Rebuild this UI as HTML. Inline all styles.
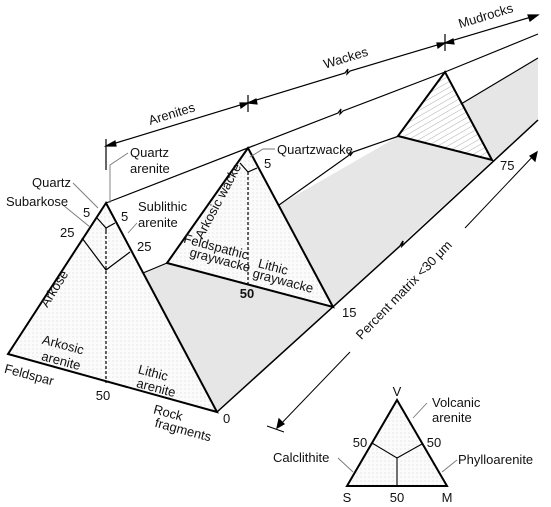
<!DOCTYPE html>
<html><head><meta charset="utf-8"><style>
html,body{margin:0;padding:0;background:#fff;}
svg{display:block;}
text{font-family:"Liberation Sans",sans-serif;font-size:13px;fill:#111;}
</style></head><body>
<svg width="551" height="507" viewBox="0 0 551 507">
<defs>
<pattern id="dots" width="4" height="4" patternUnits="userSpaceOnUse"><rect width="4" height="4" fill="#fbfbfb"/><circle cx="1" cy="1" r="0.5" fill="#c8c8c8"/></pattern>
<pattern id="hatch" width="5" height="5" patternUnits="userSpaceOnUse" patternTransform="rotate(-30)"><rect width="5" height="5" fill="#fff"/><line x1="0" y1="0" x2="5" y2="0" stroke="#999" stroke-width="0.8"/></pattern>
</defs>
<g fill="#e6e6e6" stroke="none">
<polygon points="143,273 167,263 333,307 217,412"/>
<polygon points="279,205 399,136 492,161 333,307"/>
<polygon points="461,104 538,58 538,120 492,161"/>
</g>
<polygon points="106,203 8,354 217,412" fill="url(#dots)" stroke="#000" stroke-width="2"/>
<polygon points="248,148 167,263 333,307" fill="url(#dots)" stroke="#000" stroke-width="2"/>
<polygon points="445,72 398,136 492,160" fill="url(#hatch)" stroke="#000" stroke-width="2"/>
<g stroke="#000" stroke-width="1.2" fill="none">
<line x1="106" y1="231" x2="106" y2="383" stroke-dasharray="3,2"/>
<polyline points="82,238 106,270 130,252"/>
<polyline points="97,218 106,228 115,223"/>
<line x1="106" y1="228" x2="106" y2="231"/>
<line x1="248" y1="172" x2="248" y2="284" stroke-dasharray="3,2"/>
<polyline points="240,163 248,172 257,168"/>
</g>
<g stroke="#000" stroke-width="1.2" fill="none">
<polyline points="106,203 338,113 341,109 340,114 343,111 445,72 538,34"/>
<polyline points="279,205 348,156 351,151 350,156 353,152 399,136"/>
<line x1="461" y1="104" x2="538" y2="58"/>
<line x1="143" y1="273" x2="167" y2="263"/>
<polyline points="217,412 400,246 403,241 402,246 405,243 538,120" stroke-width="1.5"/>
<polyline points="106,146 345,73 348,69 347,74 350,71 538,15"/>
<line x1="106" y1="139" x2="106" y2="170"/>
<line x1="248" y1="95" x2="248" y2="112"/>
<line x1="445" y1="34" x2="445" y2="51"/>
<polygon points="538,15 528,15 530,21" fill="#000"/>
<polygon points="106,146 115,141 116,146" fill="#000"/>
<polygon points="248,103 240,103 241,108" fill="#000"/>
<polygon points="248,103 256,99 257,104" fill="#000"/>
<polygon points="445,43 437,43 438,48" fill="#000"/>
<polygon points="445,43 453,39 454,44" fill="#000"/>
<line x1="350" y1="352" x2="277" y2="428" stroke-width="1"/>
<line x1="267" y1="426" x2="284" y2="432" stroke-width="1"/>
<polygon points="277,428 279,419 284,424" fill="#000"/>
<line x1="465" y1="228" x2="537" y2="152" stroke-width="1"/>
<polygon points="537,152 535,161 530,156" fill="#000"/>
</g>
<g stroke="#777" stroke-width="0.9" fill="none">
<polyline points="128,153 110,165 110,203"/>
<line x1="73" y1="183" x2="98" y2="208"/>
<line x1="63" y1="205" x2="90" y2="227"/>
<line x1="137" y1="223" x2="128" y2="233"/>
<polyline points="275,149 263,149 250,157"/>
<line x1="427" y1="403" x2="413" y2="418"/>
<line x1="338" y1="458" x2="353" y2="472"/>
<line x1="457" y1="460" x2="442" y2="472"/>
</g>
<text x="173" y="118" text-anchor="middle" transform="rotate(-17 173 118)">Arenites</text>
<text x="347" y="62" text-anchor="middle" transform="rotate(-17 347 62)">Wackes</text>
<text x="487" y="20" text-anchor="middle" transform="rotate(-17 487 20)">Mudrocks</text>
<text x="130" y="157">Quartz</text>
<text x="130" y="173">arenite</text>
<text x="32" y="187">Quartz</text>
<text x="6" y="206">Subarkose</text>
<text x="138" y="211">Sublithic</text>
<text x="138" y="227">arenite</text>
<text x="83" y="217">5</text>
<text x="121" y="221">5</text>
<text x="60" y="237">25</text>
<text x="137" y="251">25</text>
<text x="58" y="291" text-anchor="middle" transform="rotate(-58 58 291)">Arkose</text>
<text x="62" y="349" text-anchor="middle" transform="rotate(15 62 349)">Arkosic</text>
<text x="60" y="365" text-anchor="middle" transform="rotate(15 60 365)">arenite</text>
<text x="152" y="377" text-anchor="middle" transform="rotate(15 152 377)">Lithic</text>
<text x="155" y="392" text-anchor="middle" transform="rotate(15 155 392)">arenite</text>
<text x="28" y="379" text-anchor="middle" transform="rotate(15 28 379)">Feldspar</text>
<text x="103" y="400" text-anchor="middle">50</text>
<text x="167" y="417" text-anchor="middle" transform="rotate(15 167 417)">Rock</text>
<text x="182" y="434" text-anchor="middle" transform="rotate(15 182 434)">fragments</text>
<text x="223" y="423">0</text>
<text x="277" y="154">Quartzwacke</text>
<text x="264" y="168">5</text>
<text x="222" y="203" text-anchor="middle" transform="rotate(-62 222 203)">Arkosic wacke</text>
<text x="215" y="251" text-anchor="middle" transform="rotate(15 215 251)">Feldspathic</text>
<text x="219" y="264" text-anchor="middle" transform="rotate(15 219 264)">graywacke</text>
<text x="272" y="271" text-anchor="middle" transform="rotate(15 272 271)">Lithic</text>
<text x="282" y="285" text-anchor="middle" transform="rotate(15 282 285)">graywacke</text>
<text x="247" y="298" text-anchor="middle" font-weight="bold">50</text>
<text x="342" y="317">15</text>
<text x="500" y="170">75</text>
<text x="407" y="293" text-anchor="middle" transform="rotate(-46 407 293)">Percent matrix &lt;30 μm</text>
<polygon points="397,400 347,486 447,486" fill="url(#dots)" stroke="#000" stroke-width="2"/>
<polyline points="372,443 397,458 422,444" fill="none" stroke="#000" stroke-width="1.1"/>
<line x1="397" y1="458" x2="397" y2="486" stroke="#000" stroke-width="1.1"/>
<text x="397" y="396" text-anchor="middle">V</text>
<text x="432" y="407">Volcanic</text>
<text x="432" y="422">arenite</text>
<text x="360" y="447" text-anchor="middle">50</text>
<text x="434" y="447" text-anchor="middle">50</text>
<text x="273" y="462">Calclithite</text>
<text x="458" y="464">Phylloarenite</text>
<text x="347" y="502" text-anchor="middle">S</text>
<text x="397" y="502" text-anchor="middle">50</text>
<text x="447" y="502" text-anchor="middle">M</text>
</svg>
</body></html>
